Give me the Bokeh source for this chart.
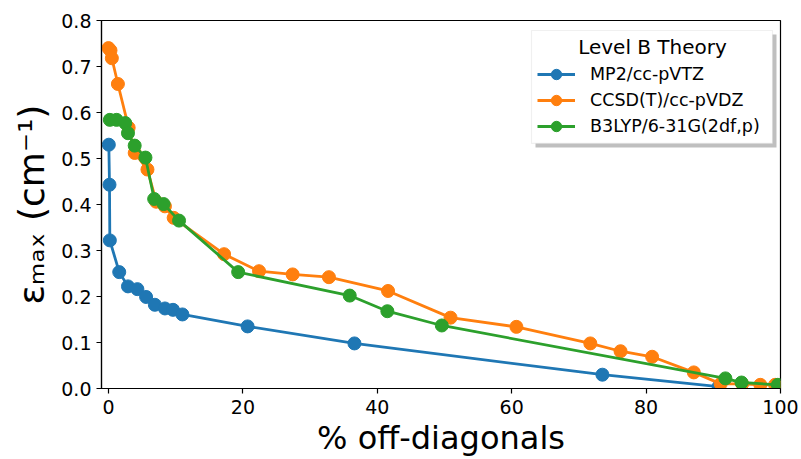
from bokeh.plotting import figure
from bokeh.models import (Range1d, FixedTicker, PrintfTickFormatter, Legend, LegendItem,
                          BoxAnnotation, Label)
from bokeh.embed import file_html
from bokeh.resources import INLINE

# ---------------- data ----------------
mp2_x = [0.05, 0.15, 0.2, 1.6, 2.9, 4.3, 5.6, 6.9, 8.4, 9.6, 11.0, 20.7, 36.6, 73.5, 90.8]
mp2_y = [0.530, 0.443, 0.322, 0.253, 0.222, 0.216, 0.199, 0.182, 0.174, 0.171, 0.161, 0.135, 0.098, 0.030, 0.004]

ccsd_x = [0.0, 0.3, 0.5, 1.4, 3.0, 3.9, 5.8, 7.1, 8.4, 9.7, 17.2, 22.4, 27.4, 32.8, 41.6,
          50.9, 60.7, 71.7, 76.2, 80.9, 87.1, 91.1, 94.3, 97.0, 99.2]
ccsd_y = [0.740, 0.735, 0.718, 0.662, 0.567, 0.512, 0.476, 0.406, 0.396, 0.371, 0.292, 0.255,
          0.248, 0.242, 0.212, 0.154, 0.134, 0.098, 0.081, 0.069, 0.035, 0.010, 0.010, 0.008, 0.008]

b3_x = [0.2, 1.2, 2.5, 2.9, 3.9, 5.5, 6.8, 8.2, 10.5, 19.3, 35.9, 41.5, 49.6, 91.8, 94.2, 99.6]
b3_y = [0.584, 0.584, 0.577, 0.555, 0.528, 0.502, 0.412, 0.401, 0.365, 0.253, 0.202, 0.168,
        0.137, 0.022, 0.013, 0.008]

series_names = ["MP2/cc-pVTZ", "CCSD(T)/cc-pVDZ", "B3LYP/6-31G(2df,p)"]
series_colors = ["#1f77b4", "#ff7f0e", "#2ca02c"]
legend_title = "Level B Theory"
x_label = "% off-diagonals"
y_label = "\u03b5\u2098\u2090\u2093 (cm\u207b\u00b9)"

x_ticks = [0, 20, 40, 60, 80, 100]
y_ticks = [0.0, 0.1, 0.2, 0.3, 0.4, 0.5, 0.6, 0.7, 0.8]

# ---------------- figure ----------------
X0, X1, Y0, Y1 = -1.04, 100.0, 0.0, 0.8
FL, FR, FT, FB = 101, 780, 20, 388.3   # frame edges in canvas pixels

def dx(px):
    return X0 + (px - FL) * (X1 - X0) / (FR - FL)

def dy(py):
    return Y0 + (FB - py) * (Y1 - Y0) / (FB - FT)

p = figure(width=801, height=459, output_backend="svg", toolbar_location=None,
           x_range=Range1d(X0, X1), y_range=Range1d(Y0, Y1),
           min_border_left=101, min_border_right=21, min_border_top=20, min_border_bottom=71)
p.background_fill_color = "white"
p.border_fill_color = "white"
p.xgrid.visible = False
p.ygrid.visible = False
p.outline_line_color = "black"
p.outline_line_width = 1.2

FONT = "DejaVu Sans"
for ax in (p.xaxis[0], p.yaxis[0]):
    ax.axis_line_color = "black"
    ax.axis_line_width = 1.2
    ax.major_tick_line_color = "black"
    ax.major_tick_line_width = 1.2
    ax.major_tick_out = 5
    ax.major_tick_in = 0
    ax.minor_tick_line_color = None
    ax.major_label_text_font = FONT
    ax.major_label_text_font_size = "19px"
    ax.major_label_text_color = "black"
    ax.axis_label_text_font = FONT
    ax.axis_label_text_font_style = "normal"
    ax.axis_label_text_color = "black"

p.xaxis.ticker = FixedTicker(ticks=x_ticks)
p.yaxis.ticker = FixedTicker(ticks=y_ticks)
p.yaxis.formatter = PrintfTickFormatter(format="%.1f")
p.xaxis.major_label_standoff = 6
p.xaxis.axis_label = x_label
p.xaxis.axis_label_text_font_size = "32px"
p.xaxis.axis_label_standoff = 2
p.yaxis.axis_label = y_label
p.yaxis.axis_label_text_font_size = "36px"
p.yaxis.axis_label_standoff = 6

items = []
for xs, ys, name, col in zip([mp2_x, ccsd_x, b3_x], [mp2_y, ccsd_y, b3_y], series_names, series_colors):
    ln = p.line(xs, ys, line_color=col, line_width=2.8)
    sc = p.scatter(xs, ys, marker="circle", size=13, fill_color=col, line_color=col)
    items.append(LegendItem(label=name, renderers=[ln, sc]))

# legend frame with shadow
shadow = BoxAnnotation(left=dx(535), right=dx(776), top=dy(34), bottom=dy(147),
                       fill_color="#808080", fill_alpha=0.5, line_alpha=0)
box = BoxAnnotation(left=dx(531), right=dx(772), top=dy(30), bottom=dy(143),
                    fill_color="white", fill_alpha=1.0, line_color="#cccccc", line_width=1.2)
p.add_layout(shadow)
p.add_layout(box)

legend = Legend(items=items, location=(432, 245), padding=4, spacing=0,
                label_height=26, glyph_height=26, glyph_width=38, label_standoff=15,
                label_text_font=FONT, label_text_font_size="17.5px", label_text_color="black",
                border_line_alpha=0, background_fill_alpha=0, margin=0)
p.add_layout(legend)

title = Label(x=dx(652), y=dy(46.5), text=legend_title, text_align="center", text_baseline="middle",
              text_font=FONT, text_font_size="20px", text_color="black")
p.add_layout(title)

open("out.html", "w").write(file_html(p, INLINE))
